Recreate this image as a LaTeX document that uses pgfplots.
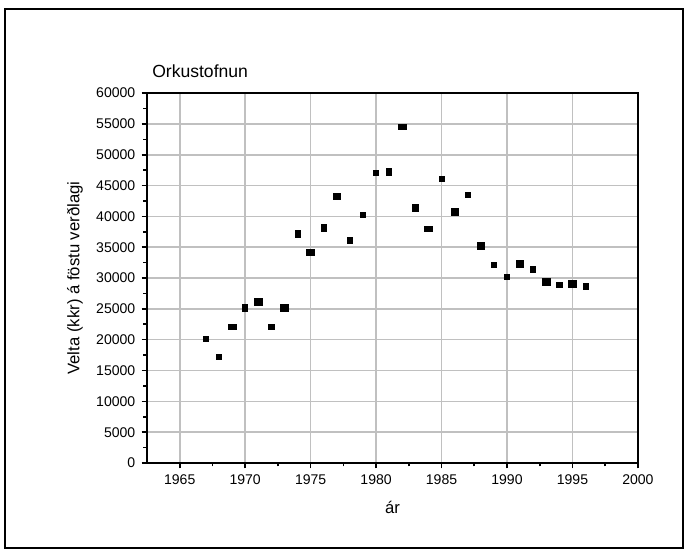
\documentclass[border=0pt]{standalone}
\usepackage{fontspec}
\setmainfont{Liberation Sans}
\usepackage{pgfplots}
\pgfplotsset{compat=1.18}
\definecolor{gridgray}{RGB}{192,192,192}

\begin{document}
\begin{tikzpicture}[x=0.02cm,y=0.02cm]
% page extent and outer frame (pixel units, axis origin at lower left)
\path (-147,-94) rectangle (539,463);
\draw[line width=0.8pt] (-142,-85) rectangle (536,454);
\begin{axis}[
  at={(0,0)}, anchor=south west,
  scale only axis,
  width=9.82cm, height=7.4cm,
  clip=false,
  xmin=1962.5, xmax=2000,
  ymin=0, ymax=60000,
  xtick={1965,1970,...,2000},
  ytick={0,5000,...,60000},
  minor x tick num=1,
  minor y tick num=1,
  tick align=outside,
  tick pos=left,
  major tick length=0.11cm,
  minor tick length=0.07cm,
  every tick/.style={black, line width=0.9pt},
  axis line style={line width=1.2pt},
  grid=major,
  major grid style={gridgray, line width=0.9pt},
  scaled ticks=false,
  /pgf/number format/.cd, 1000 sep={}, assume math mode=true,
  /pgfplots/.cd,
  tick label style={font=\fontsize{8}{9}\selectfont},
  xlabel={ár},
  ylabel={Velta (kkr) á föstu verðlagi},
  label style={font=\fontsize{9.5}{11}\selectfont},
  xlabel style={at={(axis description cs:0.5,-0.119)}, anchor=center},
  ylabel style={at={(axis description cs:-0.147,0.5)}, anchor=center, rotate=0},
]
% small markers
\addplot[only marks, mark=square*, mark size=1.5pt, black] coordinates {
  (1967,20150) (1968,17240) (1972,22100) (1978,36100) (1979,40300)
  (1980,47100) (1985,46100) (1987,43550) (1989,32150) (1990,30200)
  (1992,31400) (1994,28900) (1996,28650)
};
% wide markers
\addplot[only marks, mark=square*, mark size=1.5pt, black, mark options={xscale=1.45}] coordinates {
  (1969,22100) (1975,34150) (1977,43250) (1982,54550) (1984,38000)
};
% tall markers
\addplot[only marks, mark=square*, mark size=1.5pt, black, mark options={yscale=1.4}] coordinates {
  (1970,25200) (1974,37200) (1976,38150) (1981,47250) (1983,41400)
};
% large markers
\addplot[only marks, mark=square*, mark size=2.1pt, black] coordinates {
  (1971,26150) (1973,25200) (1986,40750) (1988,35250) (1991,32300)
  (1993,29400) (1995,29070)
};
\node[anchor=west, inner sep=0pt, font=\fontsize{10}{12}\selectfont] at (axis description cs:0.01,1.06) {Orkustofnun};
\end{axis}
\end{tikzpicture}
\end{document}
